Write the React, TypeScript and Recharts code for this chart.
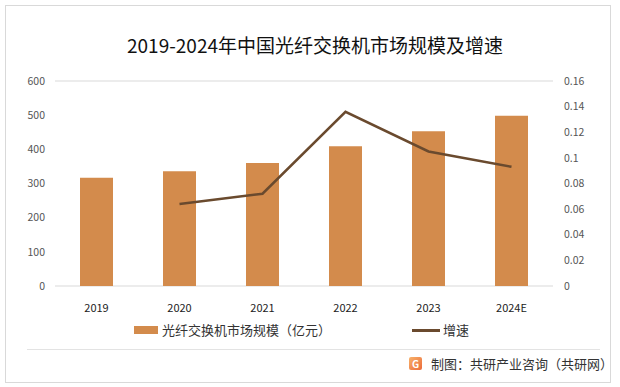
import React from 'react';
import { ComposedChart, Bar, Line, XAxis, YAxis, CartesianGrid } from 'recharts';

const years = ['2019', '2020', '2021', '2022', '2023', '2024E'];
const marketSize = [317, 336, 360, 409, 453, 498];
const growth = [null, 0.064, 0.072, 0.136, 0.105, 0.093];
const leftTicks = [0, 100, 200, 300, 400, 500, 600];
const rightTicks = [0, 0.02, 0.04, 0.06, 0.08, 0.1, 0.12, 0.14, 0.16];

const data = years.map((y, i) => ({ year: y, size: marketSize[i], rate: growth[i] }));

const BAR_COLOR = '#D38B4C';
const LINE_COLOR = '#6A4A2E';
const FONT = '"Noto Sans CJK SC", "Noto Sans", sans-serif';

// legend drawn by hand, below the x labels
function LegendRow() {
  return (
    <div style={{ position: 'absolute', left: 0, top: 322, width: 620, height: 20, fontFamily: FONT, fontSize: 13, color: '#333' }}>
      <div style={{ position: 'absolute', left: 134, top: 4, width: 24, height: 8, background: BAR_COLOR }} />
      <span style={{ position: 'absolute', left: 162, top: -2 }}>光纤交换机市场规模（亿元）</span>
      <div style={{ position: 'absolute', left: 412, top: 7, width: 28, height: 3, background: LINE_COLOR }} />
      <span style={{ position: 'absolute', left: 443, top: -2 }}>增速</span>
    </div>
  );
}

export default function App() {
  return (
    <div style={{ position: 'fixed', left: 0, top: 0, width: 620, height: 387, background: '#fff' }}>
      <div style={{ position: 'absolute', left: 5, top: 5, width: 604, height: 376, border: '1px solid #d9d9d9' }} />
      <div style={{ position: 'absolute', left: 0, top: 31, width: 630, textAlign: 'center', fontFamily: FONT, fontSize: 19, color: '#111' }}>
        2019-2024年中国光纤交换机市场规模及增速
      </div>
      <div style={{ position: 'absolute', left: 0, top: 0 }}>
        <ComposedChart width={620} height={387} data={data} margin={{ top: 81, right: 10, bottom: 71, left: 10 }}>
          <CartesianGrid vertical={false} stroke="#d9d9d9" />
          <XAxis dataKey="year" axisLine={false} tickLine={false} height={30} tickMargin={12}
            tick={{ fill: '#222', fontSize: 11, fontFamily: FONT }} />
          <YAxis yAxisId="left" width={45} domain={[0, 600]} ticks={leftTicks} axisLine={false} tickLine={false}
            tickSize={0} tickMargin={10} tick={{ fill: '#555', fontSize: 10.5, fontFamily: FONT }} />
          <YAxis yAxisId="right" orientation="right" width={57} domain={[0, 0.16]} ticks={rightTicks} axisLine={false}
            tickLine={false} tickSize={0} tickMargin={11} tick={{ fill: '#555', fontSize: 10.5, fontFamily: FONT, textAnchor: 'start' }} />
          <Bar yAxisId="left" dataKey="size" fill={BAR_COLOR} barSize={33} isAnimationActive={false} />
          <Line yAxisId="right" dataKey="rate" stroke={LINE_COLOR} strokeWidth={2.5} dot={false} activeDot={false}
            connectNulls={false} isAnimationActive={false} />
        </ComposedChart>
      </div>
      <LegendRow />
      <div style={{ position: 'absolute', left: 27, top: 349, width: 573, height: 1, background: '#e3e3e3' }} />
      <div style={{ position: 'absolute', left: 409, top: 357, width: 13, height: 13, borderRadius: 2,
        background: 'linear-gradient(135deg, #f7b26a, #ec6a3a)', color: '#fff', fontSize: 10, fontWeight: 700,
        fontFamily: FONT, textAlign: 'center', lineHeight: '13px' }}>G</div>
      <div style={{ position: 'absolute', left: 431, top: 354, fontFamily: FONT, fontSize: 13, color: '#333' }}>
        制图：共研产业咨询（共研网）
      </div>
    </div>
  );
}
